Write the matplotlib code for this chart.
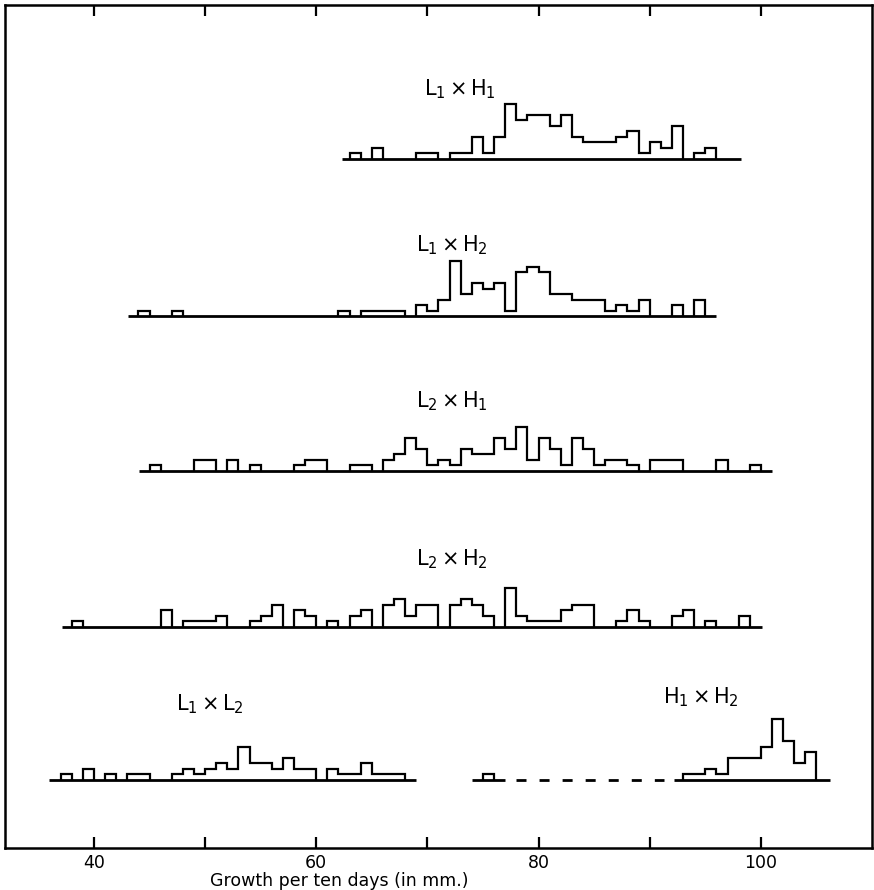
import numpy as np
import matplotlib
matplotlib.use("Agg")
import matplotlib.pyplot as plt

# ---------------- data (counts per 1-mm class) ----------------
L1H1_start = 63
L1H1_counts = [1, 0, 2, 0, 0, 0, 1, 1, 0, 1, 1, 4, 1, 4, 10, 7, 8, 8, 6, 8, 4, 3, 3, 3,
               4, 5, 1, 3, 2, 6, 0, 1, 2]

L1H2_start = 44
L1H2_counts = [1, 0, 0, 1, 0, 0, 0, 0, 0, 0, 0, 0, 0, 0, 0, 0, 0, 0, 1, 0, 1, 1, 1, 1,
               0, 2, 1, 3, 10, 4, 6, 5, 6, 1, 8, 9, 8, 4, 4, 3, 3, 3, 1, 2, 1, 3, 0, 0,
               2, 0, 3]

L2H1_start = 45
L2H1_counts = [1, 0, 0, 0, 2, 2, 0, 2, 0, 1, 0, 0, 0, 1, 2, 2, 0, 0, 1, 1, 0, 2, 3, 6,
               4, 1, 2, 1, 4, 3, 3, 6, 4, 8, 2, 6, 4, 1, 6, 4, 1, 2, 2, 1, 0, 2, 2, 2,
               0, 0, 0, 2, 0, 0, 1]

L2H2_start = 38
L2H2_counts = [1, 0, 0, 0, 0, 0, 0, 0, 3, 0, 1, 1, 1, 2, 0, 0, 1, 2, 4, 0, 3, 2, 0, 1,
               0, 2, 3, 0, 4, 5, 2, 4, 4, 0, 4, 5, 4, 2, 0, 7, 2, 1, 1, 1, 3, 4, 4, 0,
               0, 1, 3, 1, 0, 0, 2, 3, 0, 1, 0, 0, 2]

L1L2_start = 37
L1L2_counts = [1, 0, 2, 0, 1, 0, 1, 1, 0, 0, 1, 2, 1, 2, 3, 2, 6, 3, 3, 2, 4, 2, 2, 0,
               2, 1, 1, 3, 1, 1, 1]

H1H2_start = 75
H1H2_counts = [1, 0, 0, 0, 0, 0, 0, 0, 0, 0, 0, 0, 0, 0, 0, 0, 0, 0, 1, 1, 2, 1, 4, 4,
               4, 6, 11, 7, 3, 5]

# row layout: (name label, start, counts, baseline y, baseline x-extent, label x, label y)
rows = [
    (("L", "1", "H", "1"), L1H1_start, L1H1_counts, 125.3, (62.3, 98.2), 72.9, 138.0),
    (("L", "1", "H", "2"), L1H2_start, L1H2_counts, 96.7, (43.1, 96.0), 72.2, 109.6),
    (("L", "2", "H", "1"), L2H1_start, L2H1_counts, 68.6, (44.1, 101.0), 72.2, 81.2),
    (("L", "2", "H", "2"), L2H2_start, L2H2_counts, 40.2, (37.1, 100.1), 72.2, 52.6),
    (("L", "1", "L", "2"), L1L2_start, L1L2_counts, 12.4, (36.0, 69.0), 50.4, 26.2),
    (("H", "1", "H", "2"), H1H2_start, H1H2_counts, 12.4, None, 94.6, 27.4),
]

xticks = [40, 50, 60, 70, 80, 90, 100]
xticklabels = ["40", "", "60", "", "80", "", "100"]
xlabel = "Growth per ten days (in mm.)"

# ---------------- figure ----------------
fig = plt.figure(figsize=(8.74, 8.90), dpi=100)
ax = fig.add_axes([5 / 874, 42 / 890, 867 / 874, 843 / 890])
ax.set_xlim(32, 110)
ax.set_ylim(0, 153.3)

LW_H = 1.6
LW_B = 2.0

def draw_hist(start, counts, base):
    counts = np.asarray(counts, dtype=float)
    n = len(counts)
    i = 0
    while i < n:
        if counts[i] > 0:
            j = i
            while j < n and counts[j] > 0:
                j += 1
            edges = np.arange(start + i, start + j + 1)
            ax.stairs(counts[i:j] + base, edges, baseline=base,
                      color="black", linewidth=LW_H)
            i = j
        else:
            i += 1

for lab, start, counts, base, ext, lx, ly in rows:
    draw_hist(start, counts, base)
    if ext is not None:
        ax.plot(ext, [base, base], color="black", linewidth=LW_B,
                solid_capstyle="butt")
    a, s1, b, s2 = lab
    ax.text(lx, ly, rf"$\mathrm{{{a}}}_{{{s1}}}\,$" + "×" + rf"$\,\mathrm{{{b}}}_{{{s2}}}$",
            ha="center", va="center", fontsize=15, color="black")

# H1 x H2 baseline: solid, dashed gap, solid
hb = 12.4
ax.plot([74.0, 77.0], [hb, hb], color="black", linewidth=LW_B, solid_capstyle="butt")
ax.plot([78.0, 91.3], [hb, hb], color="black", linewidth=LW_B,
        linestyle=(0, (3.6, 4.7)), dash_capstyle="butt")
ax.plot([92.2, 106.2], [hb, hb], color="black", linewidth=LW_B, solid_capstyle="butt")

# axes styling
for sp in ax.spines.values():
    sp.set_linewidth(1.8)
ax.set_xticks(xticks)
ax.set_xticklabels(xticklabels, fontsize=12.5)
ax.tick_params(axis="x", which="both", direction="in", length=8, width=1.6,
               top=True, bottom=True, labeltop=False, pad=4)
ax.set_yticks([])
ax.set_xlabel(xlabel, fontsize=12.5, labelpad=2)
ax.xaxis.set_label_coords(0.385, -0.028)

fig.savefig("out.png", dpi=100)
